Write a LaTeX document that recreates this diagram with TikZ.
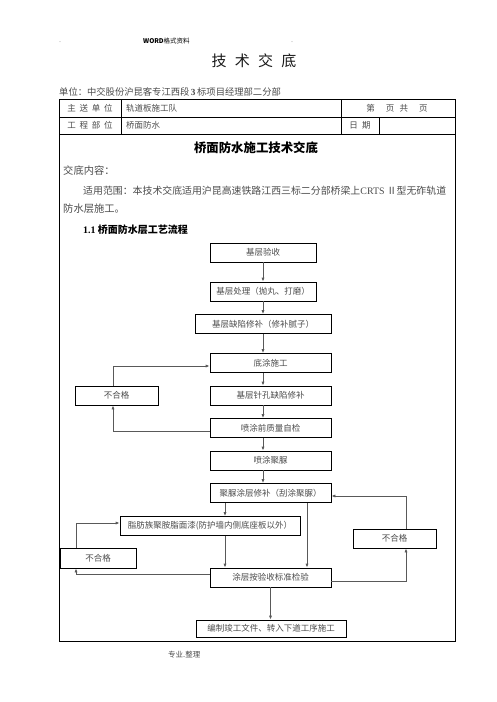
\documentclass[tikz,border=0pt]{standalone}
\usepackage{fontspec}
\setmainfont{Liberation Serif}
\newfontfamily\cjk{Noto Sans CJK SC}
\usetikzlibrary{arrows.meta}
\definecolor{txt}{gray}{0.3}
\definecolor{conn}{gray}{0.35}
\tikzset{
  fbox/.style={draw=black, line width=0.8pt, minimum height=19pt, inner sep=0pt, font=\cjk\fontsize{8.5}{10}\selectfont, text=txt},
  conn/.style={draw=conn, line width=0.8pt, -{Latex[length=4pt,width=3.2pt]}},
  tline/.style={draw=black, line width=0.8pt},
  celltxt/.style={font=\cjk\fontsize{8.5}{10}\selectfont, text=txt, inner sep=0pt},
  bodytxt/.style={font=\cjk\fontsize{10.3}{12}\selectfont, text=txt, inner sep=0pt, anchor=west},
}
\begin{document}
\begin{tikzpicture}[x=1pt,y=-1pt]
\useasboundingbox (0,0) rectangle (496,702);
\fill[white] (0,0) rectangle (496,702);
% header
\node[celltxt, font=\fontsize{6}{7}\selectfont] (dotl) at (60,42) {.};
\node[celltxt, anchor=west, text=black] (hdr) at (143,41) {{\bfseries\fontsize{6.5}{7}\selectfont WORD}{\cjk\fontsize{6.5}{7}\selectfont 格式资料}};
\node[celltxt, font=\fontsize{6}{7}\selectfont] (dotr) at (292,42) {.};
\node[inner sep=0pt, font=\cjk\fontsize{15}{16}\selectfont, text=black!90] (title) at (254,61) {技\hspace{0.55em}术\hspace{0.55em}交\hspace{0.55em}底};
\node[celltxt, anchor=west, font=\cjk\fontsize{9.3}{11}\selectfont] (unit) at (59,92) {单位：中交股份沪昆客专江西段\,{\rmfamily\bfseries 3}\,标项目经理部二分部};
% table
\draw[tline] (59,99) rectangle (455,641);
\draw[tline] (59,117) -- (455,117);
\draw[tline] (59,134) -- (455,134);
\draw[tline] (121,99) -- (121,134);
\draw[tline] (341,99) -- (341,134);
\draw[tline] (379,117) -- (379,134);
\node[celltxt] (c11) at (90,108) {主\hspace{0.45em}送\hspace{0.45em}单\hspace{0.45em}位};
\node[celltxt, anchor=west] (c12) at (126,108) {轨道板施工队};
\node[celltxt] (c13) at (397,108) {第\hspace{1.3em}页\hspace{0.6em}共\hspace{1.3em}页};
\node[celltxt] (c21) at (90,125.5) {工\hspace{0.45em}程\hspace{0.45em}部\hspace{0.45em}位};
\node[celltxt, anchor=west] (c22) at (126,125.5) {桥面防水};
\node[celltxt] (c23) at (360,125.5) {日\hspace{0.5em}期};
% body text
\node[inner sep=0pt, font=\cjk\bfseries\fontsize{12.4}{14}\selectfont, text=black] (btitle) at (256,148) {桥面防水施工技术交底};
\node[bodytxt] (t1) at (63,171) {交底内容：};
\node[bodytxt, font=\cjk\fontsize{9.9}{12}\selectfont] (t2) at (83,191) {适用范围：本技术交底适用沪昆高速铁路江西三标二分部桥梁上{\rmfamily CRTS} Ⅱ型无砟轨道};
\node[bodytxt] (t3) at (63,209) {防水层施工。};
\node[bodytxt, font=\cjk\bfseries\fontsize{10}{12}\selectfont, text=black] (t4) at (83,230) {{\rmfamily\bfseries 1.1} 桥面防水层工艺流程};
% flowchart
\coordinate (cx) at (263,0);
\node[fbox, minimum width=106pt] (b1) at (263,252.5) {基层验收};
\node[fbox, minimum width=106pt] (b2) at (263,291.5) {基层处理（抛丸、打磨）};
\node[fbox, minimum width=136pt] (b3) at (263,324) {基层缺陷修补（修补腻子）};
\node[fbox, minimum width=121pt] (b4) at (270.5,363) {底涂施工};
\node[fbox, minimum width=121pt] (b5) at (270.5,395.5) {基层针孔缺陷修补};
\node[fbox, minimum width=121pt] (b6) at (270.5,428) {喷涂前质量自检};
\node[fbox, minimum width=121pt] (b7) at (270.5,460.5) {喷涂聚脲};
\node[fbox, minimum width=121pt] (b8) at (270.5,493) {聚脲涂层修补（刮涂聚脲）};
\node[fbox, minimum width=180pt] (b9) at (210,526) {脂肪族聚胺脂面漆(防护墙内侧底座板以外）};
\node[fbox, minimum width=121pt] (b10) at (270.5,577.5) {涂层按验收标准检验};
\node[fbox, minimum width=150pt, minimum height=17pt] (b11) at (271,628.5) {编制竣工文件、转入下道工序施工};
\node[fbox, minimum width=83pt] (n1) at (116.5,395.5) {不合格};
\node[fbox, minimum width=76pt, minimum height=20pt] (n2) at (98,558) {不合格};
\node[fbox, minimum width=83pt] (n3) at (394.5,538.5) {不合格};
\coordinate (ax) at (225,0);
\coordinate (bx) at (307,0);
% connectors
\draw[conn] (b1) -- (b2);
\draw[conn] (b2) -- (b3);
\draw[conn] (b3.south) -- (b3.south |- b4.north);
\draw[conn] (b4.south -| cx) -- (b5.north -| cx);
\draw[conn] (b5.south -| cx) -- (b6.north -| cx);
\draw[conn] (b6.south -| cx) -- (b7.north -| cx);
\draw[conn] (b7.south -| cx) -- (b8.north -| cx);
\draw[conn] ([xshift=-3.5pt]n1.north) |- ([yshift=-3pt]b4.west);
\draw[conn] ([yshift=-3pt]b6.west) -| ([xshift=-3.5pt]n1.south);
\draw[conn] (b8.south -| ax) -- (b9.north -| ax);
\draw[conn] (b9.south -| ax) -- (b10.north -| ax);
\draw[conn] (b8.south -| bx) -- (b10.north -| bx);
\draw[conn] ([yshift=3.5pt]b10.west) -| ([xshift=-22pt]n2.south);
\draw[conn] ([xshift=-22pt]n2.north) |- ([yshift=3pt]b9.west);
\draw[conn] ([yshift=-3.5pt]b10.east) -| ([xshift=11.5pt]n3.south);
\draw[conn] ([xshift=11.5pt]n3.north) |- ([yshift=-3pt]b8.east);
\draw[conn] (b10.south) -- (b10.south |- b11.north);
% footer
\node[celltxt, anchor=west, font=\cjk\fontsize{7.5}{9}\selectfont] (foot) at (168,655) {专业.整理};
\end{tikzpicture}
\end{document}
